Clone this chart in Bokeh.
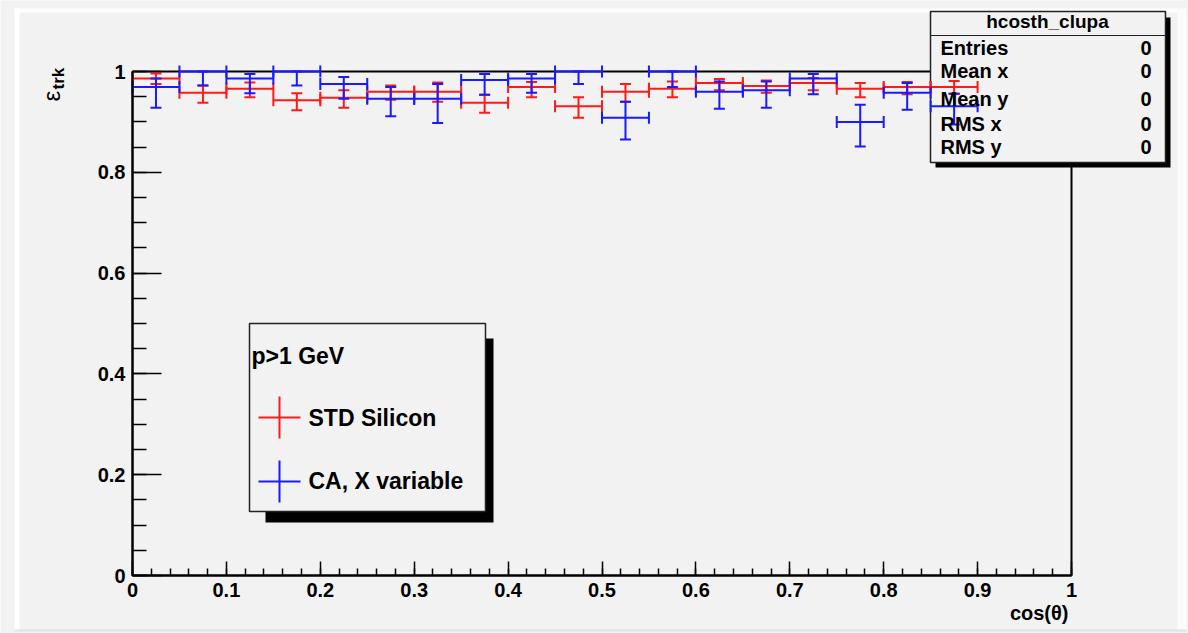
from bokeh.plotting import figure
from bokeh.models import (Range1d, FixedTicker, CustomJSTickFormatter, ColumnDataSource,
                          Whisker, TeeHead, BoxAnnotation, Label)
from bokeh.embed import file_html
from bokeh.resources import INLINE

# ---------------- data ----------------
bin_low = [0.00, 0.05, 0.10, 0.15, 0.20, 0.25, 0.30, 0.35, 0.40,
           0.45, 0.50, 0.55, 0.60, 0.65, 0.70, 0.75, 0.80, 0.85]
bin_high = [0.05, 0.10, 0.15, 0.20, 0.25, 0.30, 0.35, 0.40, 0.45,
            0.50, 0.55, 0.60, 0.65, 0.70, 0.75, 0.80, 0.85, 0.90]
bin_center = [0.025, 0.075, 0.125, 0.175, 0.225, 0.275, 0.325, 0.375, 0.425,
              0.475, 0.525, 0.575, 0.625, 0.675, 0.725, 0.775, 0.825, 0.875]

# STD Silicon (red)
std_eff = [0.986, 0.958, 0.966, 0.943, 0.948, 0.960, 0.960, 0.938, 0.969,
           0.931, 0.960, 0.966, 0.977, 0.971, 0.977, 0.966, 0.969, 0.969]
std_up = [0.996, 0.972, 0.978, 0.957, 0.963, 0.972, 0.978, 0.954, 0.979,
          0.949, 0.975, 0.980, 0.985, 0.982, 0.987, 0.977, 0.979, 0.981]
std_down = [0.975, 0.938, 0.949, 0.923, 0.928, 0.944, 0.940, 0.918, 0.949,
            0.908, 0.940, 0.949, 0.963, 0.958, 0.963, 0.949, 0.955, 0.956]

# CA, X variable (blue)
ca_eff = [0.969, 1.000, 0.986, 1.000, 0.975, 0.946, 0.946, 0.983, 0.986,
          1.000, 0.908, 1.000, 0.960, 0.963, 0.986, 0.900, 0.958, 0.931]
ca_up = [0.986, 1.000, 0.995, 1.000, 0.989, 0.969, 0.975, 0.995, 0.995,
         1.000, 0.940, 1.000, 0.980, 0.980, 0.995, 0.934, 0.977, 0.956]
ca_down = [0.928, 0.972, 0.957, 0.972, 0.946, 0.911, 0.898, 0.954, 0.958,
           0.975, 0.865, 0.969, 0.926, 0.928, 0.955, 0.851, 0.924, 0.895]

x_ticks = [0.0, 0.1, 0.2, 0.3, 0.4, 0.5, 0.6, 0.7, 0.8, 0.9, 1.0]
x_tick_labels = ["0", "0.1", "0.2", "0.3", "0.4", "0.5", "0.6", "0.7", "0.8", "0.9", "1"]
y_ticks = [0.0, 0.2, 0.4, 0.6, 0.8, 1.0]
y_tick_labels = ["0", "0.2", "0.4", "0.6", "0.8", "1"]

stats_names = ["Entries", "Mean x", "Mean y", "RMS x", "RMS y"]
stats_values = ["0", "0", "0", "0", "0"]

# ---------------- layout helpers (pixel -> data) ----------------
W, H = 1188, 633
FX0, FX1, FY0, FY1 = 132, 1071, 575, 71
def dx(px):
    return (px - FX0) / (FX1 - FX0)
def dy(py):
    return (FY0 - py) / (FY0 - FY1)

BG = "#f2f2f2"
FONT = "Liberation Sans"
RED = "#ff1a1a"
BLUE = "#1a1aff"

# the frame covers the whole canvas; axes are pinned at x=0 / y=0
p = figure(width=W, height=H, x_range=Range1d(dx(0), dx(W)), y_range=Range1d(dy(H), dy(0)),
           output_backend="svg", toolbar_location=None,
           min_border_left=0, min_border_right=0, min_border_top=0, min_border_bottom=0,
           background_fill_color=BG, border_fill_color=BG)
p.outline_line_color = None
p.xgrid.visible = False
p.ygrid.visible = False

x_minor = [round(i * 0.02, 2) for i in range(51)]
y_minor = [round(i * 0.05, 2) for i in range(21)]
p.xaxis.ticker = FixedTicker(ticks=x_ticks, minor_ticks=x_minor)
p.yaxis.ticker = FixedTicker(ticks=y_ticks, minor_ticks=y_minor)
fmt_code = """
let best = 0;
for (let i = 0; i < tk.length; i++) {
  if (Math.abs(tk[i] - tick) < Math.abs(tk[best] - tick)) best = i;
}
return lb[best];
"""
p.xaxis.formatter = CustomJSTickFormatter(args=dict(tk=x_ticks, lb=x_tick_labels), code=fmt_code)
p.yaxis.formatter = CustomJSTickFormatter(args=dict(tk=y_ticks, lb=y_tick_labels), code=fmt_code)

for ax in (p.xaxis[0], p.yaxis[0]):
    ax.fixed_location = 0
    ax.bounds = (0, 1)
    ax.axis_line_width = 2
    ax.axis_line_color = "black"
    ax.major_tick_out = 0
    ax.minor_tick_out = 0
    ax.major_tick_line_width = 1.5
    ax.minor_tick_line_width = 1.5
    ax.major_label_text_font = FONT
    ax.major_label_text_font_style = "bold"
    ax.major_label_text_font_size = "20px"
    ax.major_label_text_color = "black"
    ax.major_label_standoff = 7
p.xaxis.major_tick_in = 14
p.xaxis.minor_tick_in = 7
p.yaxis.major_tick_in = 29
p.yaxis.minor_tick_in = 14

def box(l, r, t, b, fill, line=None, lw=1, level="underlay"):
    p.add_layout(BoxAnnotation(left=dx(l), right=dx(r), top=dy(t), bottom=dy(b),
                               fill_color=fill, fill_alpha=1 if fill else 0,
                               line_color=line, line_alpha=1, line_width=lw, level=level))

# Bokeh places "alphabetic" labels ~8px lower than requested here; compensate
SHIFT = 8
def label(px, py, text, size, align="left", bold=True, angle=0.0):
    if angle:
        px = px - SHIFT
    else:
        py = py - SHIFT
    p.add_layout(Label(x=dx(px), y=dy(py), text=text, text_align=align,
                       text_baseline="alphabetic", text_font=FONT,
                       text_font_style="bold" if bold else "normal",
                       text_font_size=size, text_color="black", angle=angle))

# ---------------- canvas bevel ----------------
box(14, 19, 8, 630, "white")
box(14, 1177, 8, 12, "white")
box(1177, 1186, 8, 630, "#fbfbfb")
box(14, 1186, 629, 631, "#e2e2e2")

# ---------------- frame (top/right sides) ----------------
box(FX0, FX1, FY1, FY0, None, "black", 2)

# ---------------- stats box (under the data) ----------------
box(935, 1170, 17, 167, "black")
box(930, 1165, 11, 162, BG, "#222222", 1.5)
box(930, 1165, 34.5, 35.5, "#222222")
label(1047, 29, "hcosth_clupa", "19px", align="center")
row_baselines = [55, 78, 106, 131, 154]
for name, val, yb in zip(stats_names, stats_values, row_baselines):
    label(940, yb, name, "20px")
    label(1151, yb, val, "20px", align="right")

# ---------------- legend box ----------------
box(265, 493, 338, 522, "black")
box(249, 485, 323, 511, BG, "#222222", 1.5)
label(251, 363, "p>1 GeV", "23px")
label(308, 425, "STD Silicon", "23px")
label(308, 488, "CA, X variable", "23px")
p.scatter(x=[dx(279)], y=[dy(417)], marker="cross", size=42, line_color=RED, line_width=2)
p.scatter(x=[dx(279)], y=[dy(481)], marker="cross", size=42, line_color=BLUE, line_width=2)

# ---------------- data (error bars) ----------------
def draw_series(eff, up, down, color):
    src = ColumnDataSource(dict(x0=bin_low, x1=bin_high, xc=bin_center,
                                y=eff, up=up, down=down))
    p.add_layout(Whisker(source=src, base="y", lower="x0", upper="x1", dimension="width",
                         line_color=color, line_width=2,
                         lower_head=TeeHead(size=12, line_color=color, line_width=2),
                         upper_head=TeeHead(size=12, line_color=color, line_width=2)))
    p.add_layout(Whisker(source=src, base="xc", lower="down", upper="up", dimension="height",
                         line_color=color, line_width=2,
                         lower_head=TeeHead(size=11, line_color=color, line_width=2),
                         upper_head=TeeHead(size=11, line_color=color, line_width=2)))

draw_series(std_eff, std_up, std_down, RED)
draw_series(ca_eff, ca_up, ca_down, BLUE)

# ---------------- axis titles ----------------
label(59, 101, "ε", "24px", bold=False, angle=1.5708)
label(66, 89, "trk", "17px", angle=1.5708)
label(1068, 620, "cos(θ)", "20px", align="right")

open("out.html", "w").write(file_html(p, INLINE))
